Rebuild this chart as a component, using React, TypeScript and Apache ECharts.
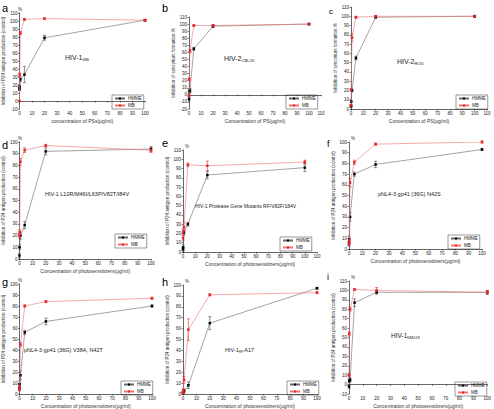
import React, { useEffect, useRef } from "react";
import * as echarts from "echarts";

// concentrations (μg/ml)
const conc = [0.032, 0.16, 0.8, 4, 20, 100];

// panel values (inhibition %)
const aHMME = [15, 18, 27, 33, 79, 101];
const aMB = [0, 33, 85, 102, 103, 101];
const aErrH = [2, 3, 3, 10, 3, 1];
const aErrM = [0, 2, 2, 1, 1, 1];

const bHMME = [-6, 5, 6, 65, 97, 100];
const bMB = [-1, 22, 62, 98, 98, 100];
const bErrH = [3, 3, 3, 2, 2, 1];
const bErrM = [2, 2, 2, 1, 1, 1];

const cHMME = [3, 8, 20, 55, 99, 100];
const cMB = [4, 21, 77, 99, 100, 100];
const cErrH = [1, 1, 1, 2, 1, 1];
const cErrM = [1, 1, 4, 1, 1, 1];

const dHMME = [3, 10, 20, 29, 92, 94];
const dMB = [20, 23, 83, 93, 97, 93];
const dErrH = [2, 2, 3, 3, 3, 2];
const dErrM = [2, 2, 3, 2, 1, 2];

const eHMME = [3, 5, 21, 30, 83, 91];
const eMB = [15, 22, 27, 94, 93, 97];
const eErrH = [2, 3, 3, 2, 4, 4];
const eErrM = [3, 3, 5, 2, 5, 2];

const fHMME = [5, 9, 30, 70, 79, 93];
const fMB = [5, 8, 62, 81, 98, 100];
const fErrH = [2, 3, 4, 2, 3, 1];
const fErrM = [2, 2, 4, 2, 1, 1];

const gHMME = [5, 9, 17, 56, 66, 80];
const gMB = [5, 7, 45, 80, 84, 87];
const gErrH = [2, 3, 4, 2, 3, 1];
const gErrM = [2, 2, 2, 1, 1, 1];

const hHMME = [1, 2, 3, 8, 65, 97];
const hMB = [1, 3, 13, 59, 91, 93];
const hErrH = [1, 1, 1, 3, 6, 1];
const hErrM = [1, 2, 3, 10, 1, 1];

const iHMME = [-2, 4, 5, 87, 98, 98];
const iMB = [10, 54, 80, 101, 100, 98];
const iErrH = [2, 2, 2, 4, 2, 2];
const iErrM = [2, 2, 2, 1, 3, 2];

const letters = ["a", "b", "c", "d", "e", "f", "g", "h", "i"];
const hmmeSets = [aHMME, bHMME, cHMME, dHMME, eHMME, fHMME, gHMME, hHMME, iHMME];
const mbSets = [aMB, bMB, cMB, dMB, eMB, fMB, gMB, hMB, iMB];
const errHSets = [aErrH, bErrH, cErrH, dErrH, eErrH, fErrH, gErrH, hErrH, iErrH];
const errMSets = [aErrM, bErrM, cErrM, dErrM, eErrM, fErrM, gErrM, hErrM, iErrM];

const yP24 = "Inhibition of P24 antigen production (control)";
const ySyn = "Inhibition of syncytium formation %";
const yNames = [yP24, ySyn, ySyn, yP24, yP24, yP24, yP24, yP24, yP24];
const xPhoto = "Concentration of photosensitizers(μg/ml)";
const xNames = [
  "concentration of PSs(μg/ml)",
  "Concentration of PS(μg/ml)",
  "Concentration of PS(μg/ml)",
  xPhoto, xPhoto, xPhoto, xPhoto, xPhoto, xPhoto,
];
const yMins = [-10, -20, 0, 0, 0, 0, 0, 0, -10];
const yMaxs = [110, 110, 110, 100, 110, 100, 100, 100, 110];
const xMaxs = [100, 110, 110, 100, 110, 100, 100, 100, 100];
const showPct = [true, false, false, true, true, true, true, true, true];

// layout (pixels)
const grids = [
  { left: 16, top: 13, width: 129, height: 96 },
  { left: 189, top: 17, width: 132, height: 92 },
  { left: 351, top: 7, width: 136, height: 102 },
  { left: 16, top: 142, width: 135, height: 117 },
  { left: 183, top: 150, width: 134, height: 102 },
  { left: 349, top: 142, width: 133, height: 107 },
  { left: 16, top: 284, width: 136, height: 116 },
  { left: 183, top: 285, width: 134, height: 110 },
  { left: 349, top: 281, width: 140, height: 114 },
];
const legendPos = [
  [112, 95], [286, 95], [456, 95],
  [115, 234], [280, 237], [448, 235],
  [121, 381], [287, 381], [455, 382],
];
const letterPos = [
  [2, 2], [162, 2], [329, 7],
  [2, 139], [162, 137], [327, 139],
  [2, 276], [162, 276], [327, 272],
];
const letterSize = [11, 11, 8, 11, 11, 9, 11, 11, 9];

const RED = "#e8232b";
const BLACK = "#000000";

function errRender(color: string) {
  return (params: any, api: any) => {
    const x = api.value(0);
    const p1 = api.coord([x, api.value(1)]);
    const p2 = api.coord([x, api.value(2)]);
    const s = { stroke: color, lineWidth: 0.6 };
    return {
      type: "group",
      children: [
        { type: "line", shape: { x1: p1[0], y1: p1[1], x2: p2[0], y2: p2[1] }, style: s },
        { type: "line", shape: { x1: p1[0] - 1.5, y1: p1[1], x2: p1[0] + 1.5, y2: p1[1] }, style: s },
        { type: "line", shape: { x1: p2[0] - 1.5, y1: p2[1], x2: p2[0] + 1.5, y2: p2[1] }, style: s },
      ],
    };
  };
}

function label(text: string, sub: string, tail: string, x: number, y: number, size: number) {
  return {
    type: "text",
    left: x,
    top: y,
    style: {
      text: `{m|${text}}` + (sub ? `{s|${sub}}` : "") + (tail ? `{m| ${tail}}` : ""),
      rich: {
        m: { fontSize: size, fill: "#222", fontFamily: "Liberation Sans", verticalAlign: "bottom" },
        s: { fontSize: size * 0.6, fill: "#222", fontFamily: "Liberation Sans", padding: [size * 0.5, 0, 0, 0], verticalAlign: "bottom" },
      },
    },
  };
}

export default function App() {
  const ref = useRef<HTMLDivElement>(null);
  useEffect(() => {
    if (!ref.current) return;
    const chart = echarts.init(ref.current, undefined, { renderer: "svg" });
    const axisCommon = {
      axisLine: { lineStyle: { color: "#000", width: 0.6 } },
      axisTick: { length: 1.5, lineStyle: { color: "#000", width: 0.5 } },
      axisLabel: { fontSize: 4.5, color: "#222", margin: 2, fontFamily: "Liberation Sans", hideOverlap: false, showMinLabel: true, showMaxLabel: true },
      splitLine: { show: false },
    };
    const xAxis = grids.map((_, i) => ({
      ...axisCommon,
      axisLabel: { ...axisCommon.axisLabel, interval: 0 },
      type: "value",
      gridIndex: i,
      min: 0,
      max: xMaxs[i],
      interval: 10,
      name: xNames[i],
      nameLocation: "middle",
      nameGap: 9,
      nameTextStyle: { fontSize: 5, color: "#333", fontFamily: "Liberation Sans" },
    }));
    const yAxis = grids.map((_, i) => ({
      ...axisCommon,
      axisLabel: { ...axisCommon.axisLabel, interval: 0 },
      type: "value",
      gridIndex: i,
      min: yMins[i],
      max: yMaxs[i],
      interval: 10,
      name: yNames[i],
      nameLocation: "middle",
      nameGap: 9,
      nameTextStyle: { fontSize: 4.5, color: "#333", fontFamily: "Liberation Sans" },
    }));
    const series: any[] = [];
    grids.forEach((_, i) => {
      series.push({
        type: "line",
        name: "HMME",
        xAxisIndex: i,
        yAxisIndex: i,
        data: conc.map((c, k) => [c, hmmeSets[i][k]]),
        symbol: "rect",
        symbolSize: 2.5,
        itemStyle: { color: BLACK },
        lineStyle: { color: "#666", width: 0.6 },
        z: 3,
      });
      series.push({
        type: "line",
        name: "MB",
        xAxisIndex: i,
        yAxisIndex: i,
        data: conc.map((c, k) => [c, mbSets[i][k]]),
        symbol: "rect",
        symbolSize: 2.5,
        itemStyle: { color: RED },
        lineStyle: { color: "#f07070", width: 0.6 },
        z: 4,
      });
      series.push({
        type: "custom",
        name: "errH" + i,
        xAxisIndex: i,
        yAxisIndex: i,
        renderItem: errRender("#444"),
        data: conc.map((c, k) => [c, hmmeSets[i][k] - errHSets[i][k], hmmeSets[i][k] + errHSets[i][k]]),
        z: 2,
      });
      series.push({
        type: "custom",
        name: "errM" + i,
        xAxisIndex: i,
        yAxisIndex: i,
        renderItem: errRender(RED),
        data: conc.map((c, k) => [c, mbSets[i][k] - errMSets[i][k], mbSets[i][k] + errMSets[i][k]]),
        z: 2,
      });
    });
    const legend = legendPos.map(([l, t]) => ({
      data: ["HMME", "MB"],
      orient: "vertical",
      left: l,
      top: t,
      itemWidth: 10,
      itemHeight: 2.5,
      itemGap: 2,
      padding: [1, 2, 1, 2],
      borderColor: "#333",
      borderWidth: 0.5,
      textStyle: { fontSize: 4.5, color: "#222", fontFamily: "Liberation Sans", padding: [0, 0, 0, -2] },
    }));
    const graphic: any[] = [];
    letterPos.forEach(([x, y], i) => {
      graphic.push({
        type: "text",
        left: x,
        top: y,
        style: { text: letters[i], fontSize: letterSize[i], fill: "#000", fontFamily: "Liberation Sans" },
      });
    });
    grids.forEach((g, i) => {
      if (showPct[i]) {
        graphic.push({
          type: "text",
          left: g.left + 2,
          top: g.top - 6,
          style: { text: "%", fontSize: 4.5, fill: "#333", fontFamily: "Liberation Sans" },
        });
      }
    });
    graphic.push(label("HIV-1", "IIIB", "", 65, 54, 7));
    graphic.push(label("HIV-2", "CBL20", "", 224, 55, 7));
    graphic.push(label("HIV-2", "ROD", "", 397, 58, 7));
    graphic.push(label("HIV-1 L10R/M46I/L63P/V82T/I84V", "", "", 45, 191, 5.5));
    graphic.push(label("HIV-1 Protease Gene Mutants RF/V82F/184V", "", "", 195, 203, 5));
    graphic.push(label("pNL4-3 gp41 (36G) N42S", "", "", 378, 191, 5.5));
    graphic.push(label("pNL4-3 gp41 (36G) V38A, N42T", "", "", 24, 347, 5.5));
    graphic.push(label("HIV-1", "RF", "A17", 225, 347, 5.5));
    graphic.push(label("HIV-1", "KM018", "", 391, 332, 6.5));

    chart.setOption({
      animation: false,
      backgroundColor: "#fff",
      grid: grids.map((g) => ({ ...g })),
      xAxis,
      yAxis,
      series,
      legend,
      graphic,
    });
    return () => chart.dispose();
  }, []);
  return (
    <div
      ref={ref}
      style={{ position: "fixed", left: 0, top: 0, width: 494, height: 409 }}
    />
  );
}
